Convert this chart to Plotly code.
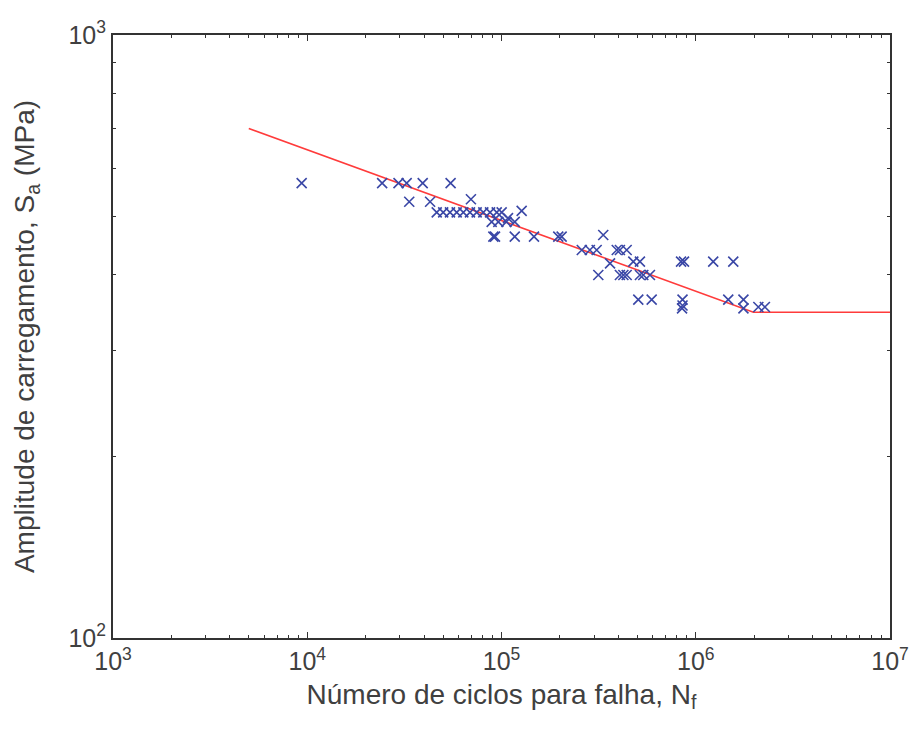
import plotly.graph_objects as go

# Experimental fatigue data: cycles to failure and stress amplitude (MPa)
ciclos = [9360, 24300, 29500, 32500, 39300, 54700,
          33500, 42900, 69600,
          46400, 50100, 54300, 58800, 63600, 68800, 74500, 80600, 87300, 94500, 100200, 127000,
          108000,
          89000, 96300, 106000, 117000,
          90800, 92600, 117000, 147000, 196000, 204000, 334000,
          259000, 285000, 309000, 392000, 407000, 441000,
          362000, 477000, 516000, 840000, 870000, 1230000, 1560000,
          315000, 407000, 424000, 441000, 516000, 537000, 581000,
          506000, 593000, 855000, 1470000, 1760000,
          855000, 850000, 1760000,
          2100000, 2270000]
amplitude = [568, 568, 568, 568, 568, 568,
             529, 529, 534,
             508, 508, 508, 508, 508, 508, 508, 508, 508, 508, 508, 511,
             497,
             490, 490, 490, 490,
             463, 463, 463, 463, 463, 463, 466,
             440, 440, 440, 440, 440, 440,
             418, 421, 421, 421, 421, 421, 421,
             400, 400, 400, 400, 400, 400, 400,
             364, 364, 364, 364, 364,
             356, 352, 352,
             354, 354]

# S-N curve (Basquin line + endurance limit)
curva_n = [5000, 1980000, 10000000]
curva_s = [700, 347, 347]

# Axis tick labels (decades)
x_ticks = [1e3, 1e4, 1e5, 1e6, 1e7]
x_ticklabels = ["10<sup>3</sup>", "10<sup>4</sup>", "10<sup>5</sup>", "10<sup>6</sup>", "10<sup>7</sup>"]
y_ticks = [1e2, 1e3]
y_ticklabels = ["10<sup>2</sup>", "10<sup>3</sup>"]

fig = go.Figure()
fig.add_trace(go.Scatter(
    x=curva_n, y=curva_s, mode="lines",
    line=dict(color="#ff3b3b", width=1.6), showlegend=False))
fig.add_trace(go.Scatter(
    x=ciclos, y=amplitude, mode="markers",
    marker=dict(symbol="x-thin", size=10, line=dict(color="#3a47a6", width=1.6)),
    showlegend=False))

font_color = "#404040"
axis_common = dict(
    type="log", showline=True, linecolor="#333333", linewidth=2,
    mirror="ticks", ticks="inside", ticklen=6, tickwidth=1.2, tickcolor="#333333",
    showgrid=False, zeroline=False, automargin=False,
    ticklabeloverflow="allow",
    tickfont=dict(family="Liberation Sans, Arial, sans-serif", size=25, color=font_color),
    minor=dict(ticks="inside", ticklen=3, tickwidth=1, tickcolor="#333333", showgrid=False,
               dtick="D1"),
)

fig.update_xaxes(
    range=[3, 7],
    tickmode="array", tickvals=x_ticks, ticktext=x_ticklabels,
    title=dict(text="Número de ciclos para falha, N<sub>f</sub>",
               font=dict(family="Liberation Sans, Arial, sans-serif", size=28, color=font_color),
               standoff=10),
    **axis_common)
fig.update_yaxes(
    range=[2, 3],
    tickmode="array", tickvals=y_ticks, ticktext=y_ticklabels,
    title=dict(text="Amplitude de carregamento, S<sub>a</sub> (MPa)",
               font=dict(family="Liberation Sans, Arial, sans-serif", size=28, color=font_color),
               standoff=26),
    **axis_common)

fig.update_layout(
    width=913, height=740,
    margin=dict(l=113, r=23, t=35, b=102),
    paper_bgcolor="white", plot_bgcolor="white",
)

fig.write_html("out.html")
